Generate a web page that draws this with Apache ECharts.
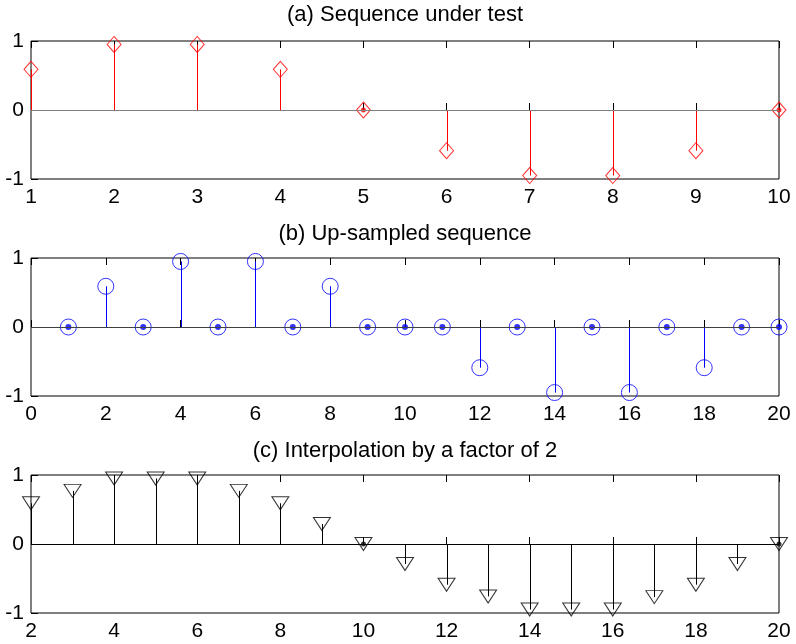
<!DOCTYPE html>
<html>
<head>
<meta charset="utf-8">
<script src="https://cdn.jsdelivr.net/npm/echarts@6/dist/echarts.min.js"></script>
<style>
  html, body { margin: 0; padding: 0; background: #fff; }
  #chart { width: 796px; height: 644px; }
</style>
</head>
<body>
<div id="chart"></div>
<script>
// (a) sequence under test
const nA = [1, 2, 3, 4, 5, 6, 7, 8, 9, 10];
const xA = [0.59, 0.95, 0.95, 0.59, 0, -0.59, -0.95, -0.95, -0.59, 0];
// (b) up-sampled sequence
const nB = [1, 2, 3, 4, 5, 6, 7, 8, 9, 10, 11, 12, 13, 14, 15, 16, 17, 18, 19, 20];
const xB = [0, 0.59, 0, 0.95, 0, 0.95, 0, 0.59, 0, 0, 0, -0.59, 0, -0.95, 0, -0.95, 0, -0.59, 0, 0];
// (c) interpolation by a factor of 2
const nC = [2, 3, 4, 5, 6, 7, 8, 9, 10, 11, 12, 13, 14, 15, 16, 17, 18, 19, 20];
const xC = [0.59, 0.77, 0.95, 0.95, 0.95, 0.77, 0.59, 0.29, 0, -0.29, -0.59, -0.76, -0.95, -0.95, -0.95, -0.77, -0.59, -0.29, 0];

const titles = ['(a) Sequence under test', '(b) Up-sampled sequence', '(c) Interpolation by a factor of 2'];
const xRanges = [[1, 10, 1], [0, 20, 2], [2, 20, 2]];

const FONT = 'Liberation Sans, Arial, Helvetica, sans-serif';
const gridTops = [41, 258, 475];
const titleTops = [4, 223, 440];
const baseColors = ['#808080', '#404040', '#000000'];

const chart = echarts.init(document.getElementById('chart'));

function pairs(n, x) {
    return n.map((v, i) => [v, x[i]]);
}

function stemSeries(idx, n, x, color) {
    return {
        type: 'custom',
        xAxisIndex: idx * 2,
        yAxisIndex: idx,
        silent: true,
        clip: false,
        data: pairs(n, x),
        renderItem(params, api) {
            const p0 = api.coord([api.value(0), 0]);
            const p1 = api.coord([api.value(0), api.value(1)]);
            const px = Math.round(p0[0]) + 0.5;
            return {
                type: 'line',
                shape: { x1: px, y1: p0[1], x2: px, y2: p1[1] },
                style: { stroke: color, lineWidth: 1 }
            };
        },
        markLine: {
            silent: true,
            symbol: 'none',
            label: { show: false },
            lineStyle: { color: baseColors[idx], width: 1, type: 'solid' },
            data: [{ yAxis: 0 }]
        }
    };
}

function markerSeries(idx, n, x, color, symbol, size, rotate) {
    return {
        type: 'scatter',
        xAxisIndex: idx * 2,
        yAxisIndex: idx,
        silent: true,
        clip: false,
        symbol: symbol,
        symbolSize: size,
        symbolRotate: rotate || 0,
        itemStyle: { color: 'rgba(0,0,0,0)', borderColor: color, borderWidth: 1 },
        data: pairs(n, x),
        z: 3
    };
}

// filled dot where the sample is zero
function zeroDots(idx, n, x, color, size) {
    return {
        type: 'scatter',
        xAxisIndex: idx * 2,
        yAxisIndex: idx,
        silent: true,
        clip: false,
        symbol: 'circle',
        symbolSize: size,
        itemStyle: { color: color },
        data: pairs(n, x).filter(d => d[1] === 0),
        z: 4
    };
}

const grids = [], xAxes = [], yAxes = [], titleList = [];
for (let i = 0; i < 3; i++) {
    grids.push({
        left: 31, width: 748, top: gridTops[i], height: 138,
        show: true, borderColor: '#000', borderWidth: 1, backgroundColor: '#fff'
    });
    const [mn, mx, step] = xRanges[i];
    xAxes.push({
        type: 'value', gridIndex: i, min: mn, max: mx, interval: step,
        position: 'bottom',
        axisLine: { show: false },
        axisTick: { show: true, inside: true, length: 7, lineStyle: { color: '#000' } },
        axisLabel: { color: '#000', fontSize: 21, fontFamily: FONT, margin: 8 },
        splitLine: { show: false }
    });
    xAxes.push({
        type: 'value', gridIndex: i, min: mn, max: mx, interval: step,
        position: 'top',
        axisLine: { show: false },
        axisTick: { show: true, inside: true, length: 7, lineStyle: { color: '#000' } },
        axisLabel: { show: false },
        splitLine: { show: false }
    });
    yAxes.push({
        type: 'value', gridIndex: i, min: -1, max: 1, interval: 1,
        axisLine: { show: false },
        axisTick: { show: true, inside: true, length: 7, lineStyle: { color: '#000' } },
        axisLabel: { color: '#000', fontSize: 21, fontFamily: FONT, margin: 7 },
        splitLine: { show: false }
    });
    titleList.push({
        text: titles[i], left: 405, top: titleTops[i], textAlign: 'center', padding: 0,
        textStyle: { color: '#000', fontSize: 22, fontWeight: 'normal', fontFamily: FONT }
    });
}

const option = {
    animation: false,
    backgroundColor: '#fff',
    title: titleList,
    grid: grids,
    xAxis: xAxes,
    yAxis: yAxes,
    series: [
        stemSeries(0, nA, xA, '#ff0000'),
        markerSeries(0, nA, xA, '#ff0000', 'diamond', [14, 16]),
        zeroDots(0, nA, xA, '#ff0000', 5),
        stemSeries(1, nB, xB, '#0000ff'),
        markerSeries(1, nB, xB, '#0000ff', 'circle', 16),
        zeroDots(1, nB, xB, '#0000ff', 6),
        stemSeries(2, nC, xC, '#000000'),
        markerSeries(2, nC, xC, '#000000', 'triangle', [17, 13], 180),
        zeroDots(2, nC, xC, '#000000', 5)
    ]
};

chart.setOption(option);
</script>
</body>
</html>
